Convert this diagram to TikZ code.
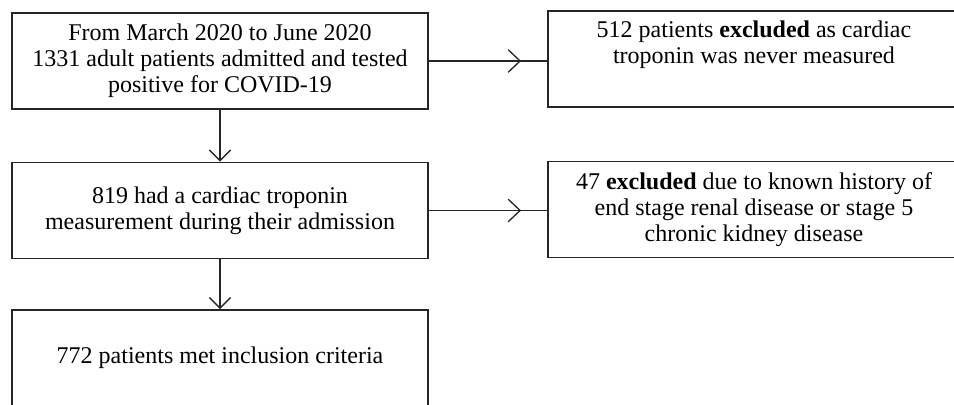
\documentclass[tikz,border=0pt]{standalone}
\usepackage{fontspec}
\setmainfont{Liberation Serif}
\usetikzlibrary{arrows.meta, positioning, decorations.markings}

\begin{document}
\begin{tikzpicture}[
  x=0.75pt, y=-0.75pt,
  font=\fontsize{18}{19.5}\selectfont,
  box/.style={draw=black!85, line width=1.4pt, align=center, inner sep=0pt, minimum height=72pt},
  mainbox/.style={box, minimum width=312pt},
  exclbox/.style={box, minimum width=309pt},
  flow/.style={line width=1pt, black!85, -{Straight Barb[length=8pt, width=16pt]}},
  sideflow/.style={line width=1pt, black!85, postaction={decorate},
    decoration={markings, mark=at position 0.78 with {\arrow{Straight Barb[length=9pt, width=17pt]}}}},
]
  \useasboundingbox (0,0) rectangle (954,404);
  \clip (0,0) rectangle (954,404);

  % --- main flow ---
  \node[mainbox] (cohort) at (220,61) {From March 2020 to June 2020\\1331 adult patients admitted and tested\\positive for COVID-19};
  \node[mainbox] (tropo) at (220,210.5) {819 had a cardiac troponin\\measurement during their admission};
  \node[mainbox] (final) at (220,358) {772 patients met inclusion criteria};

  % --- exclusions ---
  \node[exclbox] (noTrop) at (754,59) {512 patients \textbf{excluded} as cardiac\\troponin was never measured\\ \strut};
  \node[exclbox] (renal) at (754,209.5) {47 \textbf{excluded} due to known history of\\end stage renal disease or stage 5\\chronic kidney disease};

  % connectors
  \draw[flow] (cohort) -- (tropo);
  \draw[flow] (tropo) -- (final);
  \draw[sideflow] (cohort.east) -- (cohort.east -| noTrop.west);
  \draw[sideflow] (tropo.east) -- (tropo.east -| renal.west);
\end{tikzpicture}
\end{document}
